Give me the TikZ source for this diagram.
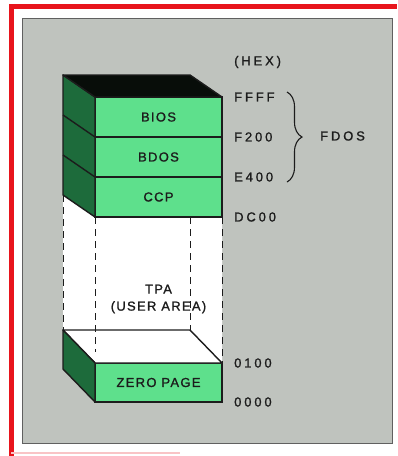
\documentclass[tikz,border=0pt]{standalone}
\usepackage{fontspec}
\setmainfont{Liberation Sans}
\newfontfamily\boxletters[LetterSpace=10,FakeBold=1.2]{Liberation Sans}
\newfontfamily\hexletters[LetterSpace=22,FakeBold=1.2]{Liberation Sans}
\usetikzlibrary{positioning,calc,backgrounds,decorations.pathreplacing}
\definecolor{redframe}{HTML}{E8141C}
\definecolor{panel}{HTML}{BFC3BE}
\definecolor{mint}{HTML}{5EE08C}
\definecolor{pine}{HTML}{1D6B3B}
\definecolor{topdark}{HTML}{080D09}
\definecolor{ink}{HTML}{1C1C1C}
\tikzset{
  face/.style={draw=ink, line width=1.4pt, fill=mint, minimum width=127pt,
    minimum height=40pt, inner sep=0pt, outer sep=0pt, text=ink,
    font=\boxletters\fontsize{13pt}{15pt}\selectfont},
  side/.style={draw=ink, line width=1.4pt, fill=pine, line join=round},
  lid/.style={draw=ink, line width=1.4pt, line join=round},
  hidden/.style={draw=ink, line width=1pt, dash pattern=on 7pt off 5pt},
  hexlbl/.style={text=ink, inner sep=0pt, anchor=west,
    font=\hexletters\fontsize{13pt}{15pt}\selectfont},
  tpalbl/.style={text=ink, inner sep=0pt, align=center,
    font=\boxletters\fontsize{13pt}{17pt}\selectfont},
  curly/.style={decorate, decoration={brace, amplitude=15pt}, draw=ink, line width=1.1pt},
}
\begin{document}
\begin{tikzpicture}[x=1pt, y=-1pt]
  \useasboundingbox (0,0) rectangle (397,456);
  % memory stack
  \node[face] (bios) at (158.5,117) {BIOS};
  \node[face, below=0pt of bios] (bdos) {BDOS};
  \node[face, below=0pt of bdos] (ccp) {CCP};
  \node[face, minimum height=39pt] (zero) at (158.5,382.5) {ZERO PAGE};
  \filldraw[side] (bios.north west) -- ++(-32,-22) -- ($(ccp.south west)+(-32,-22)$)
    -- (ccp.south west) -- cycle;
  \filldraw[lid, fill=topdark] (bios.north west) -- ++(-32,-22)
    -- ($(bios.north east)+(-32,-22)$) -- (bios.north east) -- cycle;
  \draw[lid] (bios.south west) -- ++(-32,-22);
  \draw[lid] (bdos.south west) -- ++(-32,-22);
  \filldraw[lid, fill=white] (zero.north west) -- ++(-32,-33)
    -- ($(zero.north east)+(-32,-33)$) -- (zero.north east) -- cycle;
  \filldraw[side] (zero.north west) -- ++(-32,-33) -- ++(0,39) -- (zero.south west) -- cycle;
  % hidden edges of the TPA
  \draw[hidden] ($(ccp.south west)+(-32,-22)$) -- ($(zero.north west)+(-32,-33)$);
  \draw[hidden] (ccp.south west) -- ($(zero.north west)+(0,-11)$);
  \draw[hidden] ($(ccp.south east)+(-32,0)$) -- ($(zero.north east)+(-32,-33)$);
  \draw[hidden] (ccp.south east) -- (zero.north east);
  \node[tpalbl] (tpa) at (158.5,299) {TPA\\(USER AREA)};
  % addresses
  \node[hexlbl] (hex) at (234,62) {(HEX)};
  \node[hexlbl, right=12pt of bios.north east] (ffff) {FFFF};
  \node[hexlbl, right=12pt of bios.south east] (f200) {F200};
  \node[hexlbl, right=12pt of bdos.south east] (e400) {E400};
  \node[hexlbl, right=12pt of ccp.south east] (dc00) {DC00};
  \node[hexlbl, right=12pt of zero.north east] (a0100) {0100};
  \node[hexlbl, right=12pt of zero.south east] (a0000) {0000};
  \coordinate (bracetop) at (287,92);
  \coordinate (bracebot) at (287,182);
  \draw[curly] (bracetop) -- (bracebot);
  \node[hexlbl] (fdos) at (320,136) {FDOS};
  \begin{scope}[on background layer]
    \fill[white] (0,0) rectangle (397,456);
    \draw[redframe, line width=5pt] (11,456) -- (11,6) -- (397,6);
    \draw[redframe!25, line width=1.5pt] (11,453) -- (180,453);
    \filldraw[fill=panel, draw=ink!70, line width=0.8pt] (22,18) rectangle (392,443);
    \fill[white] ($(ccp.south west)+(-32,-22)$) -- (ccp.south west) -- (ccp.south east)
      -- (zero.north east) -- (zero.north west) -- ($(zero.north west)+(-32,-33)$) -- cycle;
  \end{scope}
\end{tikzpicture}
\end{document}
